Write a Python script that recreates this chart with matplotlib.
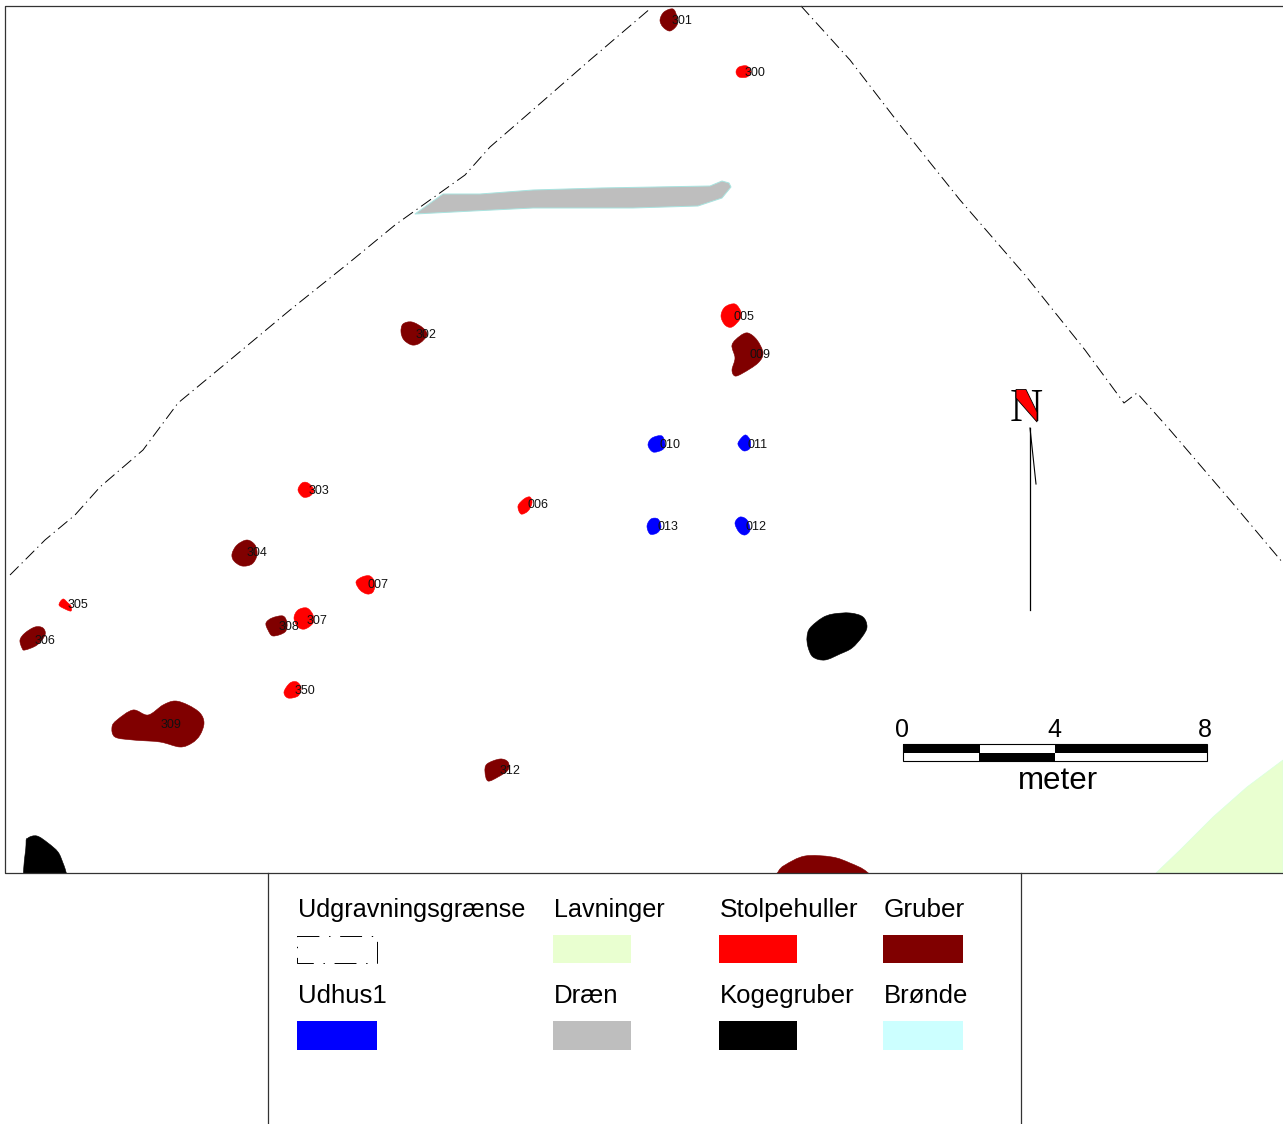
import matplotlib
matplotlib.use("Agg")
import matplotlib.pyplot as plt
from matplotlib.patches import Polygon, Rectangle, PathPatch
from matplotlib.path import Path

# map is digitised in picture pixels, so the axes just run 0-1283 / 1124-0
boundary_left = [(10, 575), (45, 540), (75, 515), (100, 487), (143, 450), (178, 403), (230, 360), (290, 310),
                 (350, 262), (395, 225), (465, 175), (490, 147), (535, 108), (590, 60), (651, 8)]
boundary_right = [(801, 6), (850, 60), (900, 125), (960, 200), (1025, 275), (1085, 350), (1124, 403), (1137, 393),
                  (1170, 430), (1230, 500), (1283, 563)]

lavning = [(1156, 873), (1180, 850), (1213, 817), (1247, 787), (1283, 760), (1283, 873)]
draen = [(415, 214), (443, 194), (480, 194), (533, 190), (600, 188), (710, 186), (722, 181), (729, 183), (731, 187),
         (722, 198), (698, 206), (633, 208), (533, 208), (473, 211)]

gruber = [
    [(660, 20), (664, 12), (673, 9), (677, 17), (677, 25), (670, 31), (663, 27)],
    [(401, 332), (403, 324), (412, 322), (423, 328), (427, 335), (420, 343), (412, 345), (404, 340)],
    [(732, 345), (740, 336), (748, 333), (757, 340), (763, 353), (758, 363), (743, 373), (735, 376), (732, 370), (735, 358)],
    [(232, 554), (237, 545), (247, 540), (255, 545), (257, 555), (252, 564), (242, 566), (234, 561)],
    [(20, 640), (25, 633), (35, 627), (43, 628), (45, 635), (37, 645), (25, 650), (22, 648)],
    [(266, 623), (272, 618), (283, 616), (287, 623), (285, 632), (273, 636), (268, 630)],
    [(112, 727), (117, 720), (133, 710), (148, 715), (163, 705), (175, 701), (188, 705), (200, 713), (204, 723),
     (200, 735), (192, 743), (180, 747), (160, 742), (133, 740), (115, 737)],
    [(485, 772), (487, 764), (500, 759), (508, 762), (508, 770), (498, 777), (488, 781)],
    [(778, 872), (785, 865), (805, 856), (832, 857), (850, 863), (867, 872), (880, 890), (770, 890)],
]
stolpehuller = [
    [(736, 72), (739, 67), (747, 66), (751, 72), (747, 77), (739, 77)],
    [(721, 316), (725, 307), (735, 304), (741, 312), (740, 319), (732, 327), (725, 325)],
    [(298, 490), (302, 483), (308, 483), (314, 490), (310, 496), (303, 497)],
    [(518, 506), (524, 499), (530, 497), (532, 503), (528, 511), (521, 514)],
    [(356, 582), (362, 577), (370, 576), (375, 583), (373, 592), (367, 594), (360, 590)],
    [(59, 605), (63, 599), (68, 603), (71, 606), (71, 611), (65, 609)],
    [(294, 618), (298, 610), (307, 608), (313, 615), (313, 623), (305, 629), (298, 627)],
    [(284, 692), (290, 683), (297, 682), (301, 688), (298, 696), (288, 698)],
]
udhus = [
    [(648, 445), (652, 438), (662, 436), (665, 445), (662, 450), (653, 452)],
    [(738, 443), (745, 435), (750, 440), (750, 448), (745, 451), (741, 449)],
    [(647, 526), (651, 519), (658, 519), (661, 527), (657, 533), (650, 534)],
    [(735, 523), (740, 517), (747, 520), (750, 530), (745, 535), (739, 532)],
]
kogegruber = [
    [(807, 637), (810, 628), (822, 618), (833, 614), (850, 613), (863, 617), (867, 627), (862, 637), (852, 648),
     (840, 654), (825, 660), (813, 657), (808, 647)],
    [(26, 845), (28, 838), (37, 836), (48, 843), (58, 852), (63, 863), (66, 872), (70, 890), (27, 890)],
]

feature_labels = ["301", "300", "302", "005", "009", "010", "011", "303", "006", "013", "012", "304", "007", "305",
                  "307", "308", "306", "350", "309", "312"]
label_x = [672, 745, 416, 734, 750, 659, 747, 309, 528, 657, 745, 247, 368, 68, 307, 279, 35, 295, 161, 500]
label_y = [20, 72, 334, 316, 354, 444, 444, 490, 504, 526, 526, 552, 584, 604, 620, 627, 640, 690, 724, 770]

legend_names = ["Udgravningsgrænse", "Lavninger", "Stolpehuller", "Gruber", "Udhus1", "Dræn", "Kogegruber", "Brønde"]
legend_colors = [None, "#e9ffd0", "#ff0000", "#800000", "#0000ff", "#bebebe", "#000000", "#ccffff"]
legend_fonts = [18.2, 18.1, 18.9, 18.8, 18.5, 18.6, 18.5, 18.5]
legend_x = [298, 554, 720, 884, 298, 554, 720, 884]
legend_text_y = [910, 910, 910, 910, 996, 996, 996, 996]
legend_box_y = [936, 935, 935, 935, 1021, 1021, 1021, 1021]
legend_box_h = [27, 28, 28, 28, 29, 29, 29, 29]
legend_box_w = [80, 78, 78, 80, 80, 78, 78, 80]

scale_ticks = ["0", "4", "8"]
scale_tick_x = [902, 1054, 1205]

SANS = "Liberation Sans"
DASHDOT = (0, (12.5, 4.5, 1.3, 4.5))
LEGEND_DASHDOT = (0, (22.5, 10, 1.4, 10))


def smooth_path(pts):
    # closed Catmull-Rom through the digitised vertices, the pits are rounded
    n = len(pts)
    verts = [pts[0]]
    codes = [Path.MOVETO]
    for i in range(n):
        p0, p1, p2, p3 = pts[i - 1], pts[i], pts[(i + 1) % n], pts[(i + 2) % n]
        c1 = (p1[0] + (p2[0] - p0[0]) / 6, p1[1] + (p2[1] - p0[1]) / 6)
        c2 = (p2[0] - (p3[0] - p1[0]) / 6, p2[1] - (p3[1] - p1[1]) / 6)
        verts += [c1, c2, p2]
        codes += [Path.CURVE4, Path.CURVE4, Path.CURVE4]
    return Path(verts, codes)


fig = plt.figure(figsize=(12.83, 11.24), dpi=100)
ax = fig.add_axes([0, 0, 1, 1])
ax.set_xlim(0, 1283)
ax.set_ylim(1124, 0)
ax.axis("off")

map_clip = Rectangle((5, 6), 1278, 867, transform=ax.transData)

ax.add_patch(Polygon(lavning, closed=True, fc="#e9ffd0", ec="#d8ffe0", lw=0.5))
ax.add_patch(Polygon(draen, closed=True, fc="#bebebe", ec="#a8e4e0", lw=0.7, joinstyle="round"))
for shapes, col in [(gruber, "#800000"), (stolpehuller, "#ff0000"), (udhus, "#0000ff"), (kogegruber, "#000000")]:
    for pts in shapes:
        pit = PathPatch(smooth_path(pts), fc=col, ec=col, lw=0.4)
        ax.add_patch(pit)
        pit.set_clip_path(map_clip)

for line in (boundary_left, boundary_right):
    ax.plot([p[0] for p in line], [p[1] for p in line], color="black", lw=0.7, ls=DASHDOT)

for name, x, y in zip(feature_labels, label_x, label_y):
    ax.text(x, y + 0.5, name, fontsize=9, family=SANS, ha="left", va="center", color="#111111")

# map frame and legend frame
ax.plot([1283, 5, 5, 1283], [6, 6, 873, 873], color="#333333", lw=0.9)
ax.plot([268, 268], [873, 1124], color="#333333", lw=0.9)
ax.plot([1021, 1021], [873, 1124], color="#333333", lw=0.9)

# north arrow, the red wedge has to hide the black diagonal of the letter (text sits at zorder 3)
ax.text(1026.5, 421, "N", fontsize=33, family="Liberation Serif", ha="center", va="baseline", color="black")
ax.add_patch(Polygon([(1016, 389.5), (1026, 389.5), (1037, 412), (1037, 422), (1016, 398)], closed=True,
                     fc="#ff0000", ec="black", lw=0.6, zorder=4))
ax.plot([1030, 1030], [428, 610], color="black", lw=0.9)
ax.plot([1030, 1036], [428, 484], color="black", lw=0.8)

# scale bar
ax.add_patch(Rectangle((903, 744), 304, 17, fc="white", ec="black", lw=0.8))
ax.add_patch(Rectangle((903, 744), 77, 9, fc="black", ec="none"))
ax.add_patch(Rectangle((1055, 744), 152, 9, fc="black", ec="none"))
ax.add_patch(Rectangle((979, 753), 76, 8, fc="black", ec="none"))
for tick, x in zip(scale_ticks, scale_tick_x):
    ax.text(x, 730, tick, fontsize=18, family=SANS, ha="center", va="center")
ax.text(1058, 781, "meter", fontsize=22.5, family=SANS, ha="center", va="center")

# legend
for i, name in enumerate(legend_names):
    ax.text(legend_x[i], legend_text_y[i], name, fontsize=legend_fonts[i], family=SANS, ha="left", va="center")
    if legend_colors[i] is None:
        ax.add_patch(Rectangle((legend_x[i] - 1, legend_box_y[i]), legend_box_w[i], legend_box_h[i],
                               fc="none", ec="black", lw=0.7, ls=LEGEND_DASHDOT))
    else:
        ax.add_patch(Rectangle((legend_x[i] - 1, legend_box_y[i]), legend_box_w[i], legend_box_h[i],
                               fc=legend_colors[i], ec="none"))

fig.savefig("out.png", dpi=100)
